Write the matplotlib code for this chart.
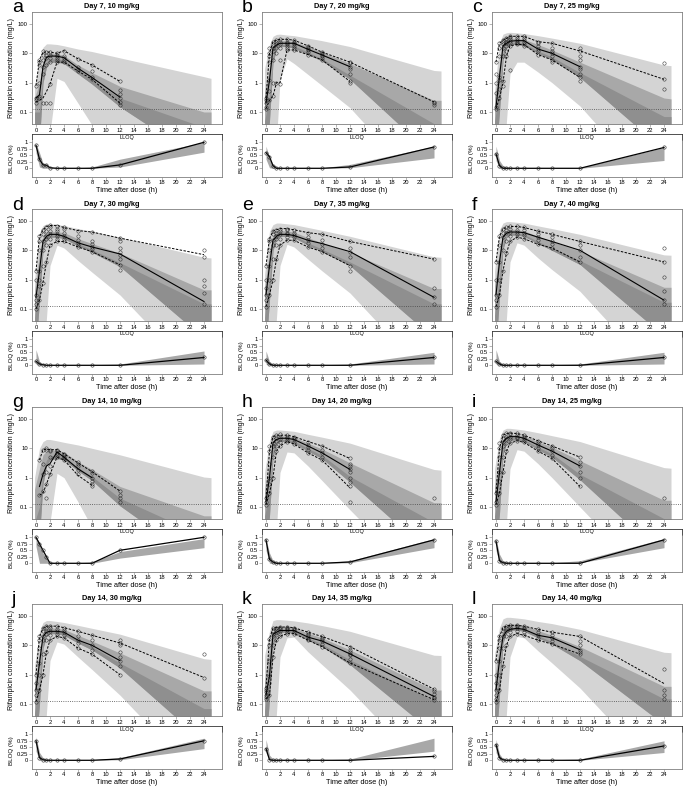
import matplotlib.pyplot as plt
import numpy as np

plt.rcParams['font.family'] = ['Liberation Sans', 'DejaVu Sans']

# panel labels and titles
letters = ['a', 'b', 'c', 'd', 'e', 'f', 'g', 'h', 'i', 'j', 'k', 'l']
titles = ['Day 7, 10 mg/kg', 'Day 7, 20 mg/kg', 'Day 7, 25 mg/kg',
          'Day 7, 30 mg/kg', 'Day 7, 35 mg/kg', 'Day 7, 40 mg/kg',
          'Day 14, 10 mg/kg', 'Day 14, 20 mg/kg', 'Day 14, 25 mg/kg',
          'Day 14, 30 mg/kg', 'Day 14, 35 mg/kg', 'Day 14, 40 mg/kg']

t_obs = [0, 0.5, 1, 1.5, 2, 3, 4, 6, 8, 12, 24]
t_band = [-0.2, 0.5, 1, 1.5, 2, 3, 4, 6, 8, 12, 24, 25]
lloq = 0.13
N = None

# observed percentiles (median, 95th, 5th)
obs_median = [
    [0.3, 0.38, 3.5, 7.3, 8.1, 8, 7.1, 3.1, 1.5, 0.32, N],
    [0.2, 1.2, 15, 19, 22, 22, 22, 13.7, 8.8, 3.5, N],
    [0.15, 1.6, 18, 22, 26, 27, 27, 14, 10, 3.5, N],
    [0.25, 2, 20, 30, 35, 35, 30, 18, 13, 7.5, 0.18],
    [0.3, 3, 22, 30, 35, 35, 32, 22, 17, 9, 0.25],
    [0.3, 4, 28, 38, 42, 42, 40, 28, 20, 10, 0.2],
    [N, 0.5, 1.3, 2.5, 3, 7.5, 5, 2, 1, N, N],
    [0.15, 1, 15, 20, 22, 22, 20, 12, 7, 1.9, N],
    [0.15, 1.5, 16, 22, 25, 25, 22, 13, 8, 2.5, N],
    [0.3, 2.5, 20, 28, 30, 30, 28, 15, 10, 3, N],
    [0.2, 0.9, 24, 28, 32, 32, 32, 19, 14, 5.1, 0.18],
    [0.3, 3, 20, 30, 35, 38, 35, 22, 18, 7.1, N],
]
obs_p95 = [
    [0.8, 6, 11, 11, 11, 10, 12.3, 6.5, 4, 1.1, N],
    [0.3, 10, 25, 28, 30, 30, 28, 18, 11, 5, 0.22],
    [5, 22, 28, 32, 38, 38, 38, 25, 22, 12, 1.3],
    [2, 30, 50, 65, 70, 71, 60, 47, 42, 26, 7.1],
    [3, 25, 45, 50, 55, 55, 50, 40, 35, 20, 5],
    [4, 30, 55, 60, 65, 65, 60, 45, 35, 20, 4],
    [N, 4, 9, 9.5, 9, 9, 6.5, 3.2, 1.6, 0.35, N],
    [0.2, 8, 25, 28, 28, 28, 25, 17, 12, 4.5, N],
    [0.3, 10, 28, 32, 33, 32, 28, 18, 12, 5, N],
    [1, 20, 38, 45, 45, 45, 40, 30, 22, 12, 0.8],
    [0.35, 17, 38, 40, 42, 42, 40, 28, 20, 9, 0.32],
    [3, 20, 40, 45, 48, 48, 45, 35, 28, 20, 0.5],
]
obs_p5 = [
    [0.22, 0.25, 0.3, 0.5, 0.9, 5, 5, 2.5, 1.3, 0.2, N],
    [0.13, 0.25, 0.35, 1, 1, 13, 13, 9, 6, 1.1, N],
    [0.13, 0.3, 1, 8, 18, 20, 20, 9, 6, 1.5, N],
    [0.1, 0.2, 0.8, 4, 15, 20, 20, 13, 9, 3.2, N],
    [0.12, 0.3, 1, 5, 15, 22, 22, 13, 9, 3, N],
    [0.12, 0.3, 2, 8, 20, 28, 25, 16, 12, 4, N],
    [N, 0.25, 0.3, 0.6, 1.3, 5, 4, 1.2, 0.55, N, N],
    [0.12, 0.3, 1, 8, 12, 17, 14, 7, 4, 0.45, N],
    [0.12, 0.3, 1.5, 8, 15, 18, 16, 8, 4.5, 0.5, N],
    [0.12, 0.3, 1, 6, 15, 20, 18, 8, 5, 1, N],
    [0.15, 0.2, 4, 15, 20, 25, 25, 15, 9, 2.5, 0.14],
    [0.12, 0.3, 2, 10, 20, 25, 22, 15, 11, 5, N],
]

# simulated prediction intervals (outer), median CI (mid) and its darker part
band_hi = [
    [0.8, 6, 16, 21, 21, 20, 18, 14, 11.5, 7, 1.6, 1.4],
    [3, 20, 38, 44, 45, 42, 40, 33, 27, 17, 2.6, 2.5],
    [0.5, 22, 45, 50, 52, 50, 47, 40, 33, 22, 4, 3.8],
    [1, 40, 70, 80, 80, 75, 70, 55, 45, 28, 5.8, 5.5],
    [1.5, 45, 75, 85, 85, 80, 75, 60, 48, 30, 6, 5.8],
    [2, 50, 85, 95, 95, 90, 85, 68, 55, 35, 7, 6.8],
    [1, 10, 17, 20, 20, 18, 16, 13, 10, 6, 1.05, 1.0],
    [1.5, 18, 38, 42, 42, 40, 38, 30, 24, 15, 1.9, 1.8],
    [2, 22, 42, 48, 48, 45, 42, 34, 27, 17, 2.2, 2.1],
    [2, 30, 60, 70, 70, 65, 60, 48, 38, 24, 3.5, 3.3],
    [4.5, 30, 70, 75, 75, 72, 68, 58, 47, 30, 4.6, 4.5],
    [5, 40, 80, 90, 90, 85, 80, 65, 55, 35, 5.8, 5.6],
]
band_lo = [
    [1e-3, 1e-3, 1e-3, 2e-3, 0.02, 1.4, 1.1, 0.2, 0.036, 1e-3, 1e-6, 1e-6],
    [1e-3, 1e-3, 1e-3, 0.01, 1.2, 6.5, 4.5, 1.9, 0.8, 0.14, 1e-4, 1e-4],
    [1e-3, 1e-3, 1e-3, 0.05, 2, 5, 5, 2.3, 1.0, 0.16, 1e-4, 1e-4],
    [1e-3, 1e-3, 1e-3, 0.05, 3, 15, 12, 4.5, 1.8, 0.3, 3e-4, 3e-4],
    [1e-3, 1e-3, 1e-3, 0.05, 3, 16, 13, 5, 2, 0.35, 3e-4, 3e-4],
    [1e-3, 1e-3, 1e-3, 0.05, 4, 18, 15, 5.5, 2.2, 0.4, 3e-4, 3e-4],
    [1e-3, 1e-3, 1e-3, 1e-3, 0.03, 1.4, 1.0, 0.15, 0.02, 5e-4, 1e-6, 1e-6],
    [1e-3, 1e-3, 1e-3, 0.02, 1.5, 7.5, 7, 2.5, 0.8, 0.08, 1e-4, 1e-4],
    [1e-3, 1e-3, 1e-3, 0.03, 2, 9, 8, 3, 1, 0.1, 1e-4, 1e-4],
    [1e-3, 1e-3, 1e-3, 0.05, 3, 13, 11, 4, 1.5, 0.2, 2e-4, 2e-4],
    [1e-3, 1e-3, 1e-3, 0.05, 4, 18, 19, 6, 2.2, 0.3, 3e-4, 3e-4],
    [1e-3, 1e-3, 1e-3, 0.05, 4, 20, 18, 6.5, 2.5, 0.35, 3e-4, 3e-4],
]
mid_hi = [
    [0.3, 1, 5, 9, 10, 9.5, 8.5, 4, 2.2, 0.75, 0.1, 0.1],
    [0.5, 3, 18, 26, 28, 27, 25, 17, 11, 4.5, 0.25, 0.25],
    [0.3, 4, 20, 30, 33, 32, 30, 20, 13, 5, 0.3, 0.28],
    [0.4, 8, 30, 42, 45, 43, 40, 25, 17, 8, 0.45, 0.45],
    [0.5, 9, 32, 45, 48, 45, 42, 27, 18, 8.5, 0.5, 0.5],
    [0.6, 10, 36, 50, 54, 50, 46, 30, 20, 9.5, 0.55, 0.55],
    [0.4, 2, 6, 8, 9, 8.5, 7.5, 3.5, 1.9, 0.5, 0.05, 0.05],
    [0.4, 3, 18, 25, 27, 26, 24, 15, 9.5, 3.2, 0.14, 0.14],
    [0.5, 4, 20, 28, 30, 29, 27, 17, 11, 3.8, 0.17, 0.17],
    [0.5, 6, 26, 38, 40, 38, 35, 22, 14, 5.5, 0.28, 0.28],
    [0.6, 8, 30, 40, 44, 42, 40, 26, 18, 7, 0.3, 0.3],
    [0.7, 10, 36, 50, 54, 52, 48, 32, 22, 9, 0.4, 0.4],
]
mid_lo = [
    [1e-3, 0.01, 1, 3.5, 5, 5, 4.5, 2, 0.9, 0.15, 2e-3, 2e-3],
    [1e-3, 0.05, 5, 14, 17, 17, 15, 9, 5.5, 1.3, 3e-3, 3e-3],
    [1e-3, 0.1, 6, 16, 20, 20, 18, 10, 6, 1.5, 5e-3, 5e-3],
    [1e-3, 0.2, 10, 22, 28, 28, 25, 14, 8.5, 2.8, 0.01, 0.01],
    [1e-3, 0.2, 10, 24, 30, 30, 27, 15, 9, 3, 0.01, 0.01],
    [1e-3, 0.25, 11, 27, 33, 33, 30, 17, 10, 3.3, 0.012, 0.012],
    [1e-3, 0.01, 0.6, 2.5, 4, 4.5, 4, 1.7, 0.8, 0.11, 1e-3, 1e-3],
    [1e-3, 0.05, 5, 13, 17, 17, 15, 8, 4.5, 0.7, 2e-3, 2e-3],
    [1e-3, 0.06, 6, 15, 19, 19, 17, 9, 5, 0.85, 2e-3, 2e-3],
    [1e-3, 0.1, 8, 20, 25, 25, 22, 12, 7, 1.7, 5e-3, 5e-3],
    [1e-3, 0.15, 10, 22, 28, 28, 26, 15, 9, 2.2, 0.01, 0.01],
    [1e-3, 0.2, 12, 27, 33, 33, 30, 18, 11, 3, 0.02, 0.02],
]
dark_hi = [
    [0.1, 0.1, 2, 5, 6.5, 6.5, 6, 2.6, 1.2, 0.3, 0.03, 0.03],
    [0.05, 0.3, 8, 18, 20, 20, 18, 11, 6.5, 1.8, 0.04, 0.04],
    [0.05, 0.5, 9, 20, 24, 24, 22, 12, 7.5, 2.2, 0.07, 0.07],
    [0.05, 1, 14, 27, 33, 33, 30, 17, 10.5, 3.8, 0.15, 0.15],
    [0.05, 1, 14, 30, 35, 35, 32, 18, 11, 4, 0.15, 0.15],
    [0.06, 1.2, 16, 33, 39, 39, 35, 20, 12, 4.5, 0.17, 0.17],
    [0.03, 0.1, 1.5, 4, 5.5, 6, 5.2, 2.2, 1.1, 0.2, 0.01, 0.01],
    [0.05, 0.3, 8, 17, 20, 20, 18, 10, 5.8, 1.1, 0.03, 0.03],
    [0.05, 0.4, 9, 19, 23, 23, 20, 11, 6.5, 1.3, 0.04, 0.04],
    [0.05, 0.6, 12, 25, 30, 30, 27, 15, 9, 2.5, 0.07, 0.07],
    [0.06, 0.8, 14, 27, 33, 33, 31, 18, 11, 3.2, 0.13, 0.13],
    [0.07, 1, 17, 33, 39, 39, 36, 22, 13, 4.2, 0.15, 0.15],
]

# observed concentrations per nominal time (mg/L)
obs_points = [
    [[0.2, 0.25, 0.3, 0.8], [0.3, 0.35, 1, 4, 5, 6], [0.2, 2, 3.5, 6, 9, 12], [0.2, 4, 7, 9, 11],
     [0.2, 0.9, 5, 7, 9, 11], [5, 6, 7, 8, 9, 10], [5, 6, 7, 8, 12], [2.5, 3, 3.5, 6.5],
     [1.3, 1.5, 2.5, 4], [0.18, 0.22, 0.3, 0.4, 0.55, 1.1], []],
    [[0.13, 0.15, 0.2, 0.25, 0.3], [0.25, 0.5, 1.2, 5, 8, 10, 15], [0.35, 1, 6, 12, 15, 20, 25],
     [1, 10, 15, 20, 25, 28], [0.9, 6, 15, 20, 25, 30], [13, 15, 18, 20, 22, 25, 30],
     [13, 15, 18, 20, 22, 25, 28], [9, 11, 13, 14, 16, 18], [6, 7, 8, 9, 10, 11],
     [1, 1.1, 2, 3, 3.5, 4.5, 5], [0.18, 0.2, 0.22]],
    [[0.13, 0.15, 0.45, 1, 2, 5], [0.3, 0.6, 1.2, 1.6, 8, 15, 22], [0.8, 1.1, 8, 15, 20, 25, 28],
     [8, 12, 18, 22, 25, 30, 32], [2.8, 18, 22, 26, 30, 35, 38], [20, 22, 25, 28, 32, 38],
     [18, 20, 25, 28, 32, 38], [9, 12, 14, 18, 22, 25], [5, 6, 8, 10, 12, 15, 22],
     [1.1, 1.5, 2, 3, 3.5, 6, 8, 12, 15], [0.6, 1.3, 4.5]],
    [[0.1, 0.15, 0.2, 0.3, 1, 2], [0.2, 0.6, 1, 2, 10, 20, 30], [0.8, 3, 10, 20, 35, 50],
     [4, 15, 25, 30, 45, 60], [15, 25, 35, 45, 60, 75], [20, 25, 30, 35, 45, 55, 70],
     [20, 25, 30, 40, 55, 60], [13, 15, 18, 22, 30, 47], [9, 11, 13, 16, 20, 42],
     [2.2, 3.2, 5, 7, 9, 12, 20, 26], [0.15, 0.35, 0.6, 1, 6, 10]],
    [[0.12, 0.2, 0.3, 0.5, 1, 3], [0.3, 1, 3, 10, 20, 25], [1, 5, 15, 22, 35, 45],
     [5, 15, 25, 30, 40, 50], [15, 25, 35, 45, 55], [22, 28, 35, 40, 50, 55], [22, 28, 32, 40, 50],
     [13, 18, 22, 28, 40], [9, 12, 17, 22, 35], [2, 3, 6, 9, 12, 20], [0.15, 0.25, 0.5, 5]],
    [[0.12, 0.2, 0.3, 1, 4], [0.3, 1, 4, 15, 30], [2, 10, 28, 40, 55], [8, 20, 38, 50, 60],
     [20, 30, 42, 55, 65], [28, 35, 42, 50, 65], [25, 32, 40, 50, 60], [16, 22, 28, 35, 45],
     [12, 16, 20, 28, 35], [4, 6, 10, 15, 20], [0.15, 0.2, 0.4, 1.2, 4, 12]],
    [[], [0.25, 4], [0.35, 1.3, 3, 9], [0.2, 0.6, 1.5, 9, 10], [1.3, 2.5, 5, 8, 9], [5, 6, 7, 8, 9],
     [4, 4.5, 5, 6, 6.5], [1.3, 1.8, 2.5, 3, 3.5], [0.5, 0.6, 0.8, 1, 1.4, 1.7],
     [0.15, 0.2, 0.25, 0.35], []],
    [[0.12, 0.15, 0.2], [0.3, 0.6, 1, 3, 8, 12], [1, 5, 12, 15, 20, 25], [8, 12, 18, 22, 28],
     [12, 16, 20, 25, 30], [17, 19, 22, 25, 28], [14, 17, 20, 23, 25], [7, 9, 11, 13, 17],
     [4, 5, 7, 9, 12], [0.15, 0.5, 0.7, 1, 1.5, 2, 2.5, 3, 4.5], [0.2]],
    [[0.12, 0.15, 0.3], [0.3, 0.8, 1.5, 5, 10, 15], [1.5, 5, 12, 16, 22, 28], [8, 15, 20, 25, 32],
     [15, 20, 25, 30, 33], [18, 22, 25, 28, 32], [16, 19, 22, 25, 28], [8, 10, 13, 15, 18],
     [4.5, 6, 8, 10, 12], [0.5, 1, 1.5, 2.5, 3.5, 5], [0.2]],
    [[0.12, 0.2, 0.3, 0.5, 1], [0.3, 1, 2.5, 8, 15, 20], [1, 5, 15, 20, 30, 38],
     [6, 15, 25, 30, 40, 45], [15, 22, 30, 38, 45], [20, 25, 30, 35, 45], [18, 22, 28, 33, 40],
     [8, 12, 15, 20, 30], [5, 7, 10, 15, 22], [1, 2, 3, 4, 6, 10, 12, 15], [0.2, 0.8, 5]],
    [[0.15, 0.18, 0.2, 0.25, 0.3, 0.35], [0.2, 0.5, 0.9, 3, 10, 17], [4, 10, 20, 25, 30, 38],
     [15, 22, 28, 32, 38, 40], [20, 25, 30, 35, 40, 42], [25, 28, 32, 36, 40, 42],
     [25, 28, 32, 36, 40], [15, 17, 19, 22, 25, 28], [9, 11, 14, 16, 18, 20],
     [2.5, 3.5, 4.5, 5, 6, 7, 9], [0.14, 0.16, 0.18, 0.22, 0.27, 0.32]],
    [[0.12, 0.15, 0.2, 0.3, 0.5, 1, 3], [0.3, 1, 3, 8, 15, 20], [2, 8, 20, 30, 40],
     [10, 20, 30, 38, 45], [20, 28, 35, 42, 48], [25, 30, 38, 45, 48], [22, 28, 35, 40, 45],
     [15, 18, 22, 28, 35], [11, 14, 18, 22, 28], [5, 6, 7, 10, 14, 20], [0.15, 0.2, 0.3, 1.5]],
]

# fraction below LLOQ: observed and simulated interval
blq_obs = [
    [0.88, 0.35, 0.13, 0.12, 0.02, 0, 0, 0, 0, 0.13, 1.0],
    [0.6, 0.45, 0.1, 0, 0, 0, 0, 0, 0, 0.05, 0.82],
    [0.55, 0.1, 0, 0, 0, 0, 0, 0, 0, 0, 0.8],
    [0.15, 0.05, 0.02, 0, 0, 0, 0, 0, 0, 0, 0.3],
    [0.2, 0.05, 0, 0, 0, 0, 0, 0, 0, 0, 0.3],
    [0.15, 0.05, 0, 0, 0, 0, 0, 0, 0, 0, 0.3],
    [1.0, 0.75, 0.5, 0.25, 0, 0, 0, 0, 0, 0.5, 1.0],
    [0.9, 0.15, 0.05, 0, 0, 0, 0, 0, 0, 0.05, 0.9],
    [0.85, 0.1, 0.02, 0, 0, 0, 0, 0, 0, 0, 0.9],
    [0.75, 0.1, 0.02, 0, 0, 0, 0, 0, 0, 0.05, 0.75],
    [0.45, 0.02, 0, 0, 0, 0, 0, 0, 0, 0, 0.15],
    [0.6, 0.1, 0.02, 0, 0, 0, 0, 0, 0, 0, 0.55],
]
blq_lo = [
    [0.6, 0.05, 0, 0, 0, 0, 0, 0, 0, 0.05, 0.62],
    [0.35, 0.02, 0, 0, 0, 0, 0, 0, 0, 0.02, 0.4],
    [0.3, 0, 0, 0, 0, 0, 0, 0, 0, 0, 0.3],
    [0.05, 0, 0, 0, 0, 0, 0, 0, 0, 0, 0.05],
    [0.05, 0, 0, 0, 0, 0, 0, 0, 0, 0, 0.05],
    [0.05, 0, 0, 0, 0, 0, 0, 0, 0, 0, 0.05],
    [0.65, 0, 0, 0, 0, 0, 0, 0, 0, 0.2, 0.6],
    [0.5, 0, 0, 0, 0, 0, 0, 0, 0, 0.02, 0.6],
    [0.5, 0, 0, 0, 0, 0, 0, 0, 0, 0.02, 0.6],
    [0.35, 0, 0, 0, 0, 0, 0, 0, 0, 0.02, 0.45],
    [0.3, 0, 0, 0, 0, 0, 0, 0, 0, 0, 0.35],
    [0.3, 0, 0, 0, 0, 0, 0, 0, 0, 0, 0.3],
]
blq_hi = [
    [0.95, 0.6, 0.2, 0.1, 0.05, 0.02, 0.02, 0.02, 0.05, 0.35, 1.0],
    [0.85, 0.4, 0.15, 0.05, 0.02, 0.02, 0.02, 0.02, 0.02, 0.15, 0.85],
    [0.85, 0.3, 0.1, 0.05, 0.02, 0.02, 0.02, 0.02, 0.02, 0.03, 0.8],
    [0.6, 0.15, 0.05, 0.02, 0.02, 0.02, 0.02, 0.02, 0.02, 0.05, 0.55],
    [0.55, 0.15, 0.05, 0.02, 0.02, 0.02, 0.02, 0.02, 0.02, 0.05, 0.5],
    [0.6, 0.15, 0.05, 0.02, 0.02, 0.02, 0.02, 0.02, 0.02, 0.05, 0.5],
    [1.0, 0.8, 0.4, 0.2, 0.05, 0.02, 0.02, 0.02, 0.05, 0.45, 0.95],
    [0.95, 0.4, 0.1, 0.05, 0.02, 0.02, 0.02, 0.02, 0.02, 0.1, 0.95],
    [0.95, 0.35, 0.1, 0.05, 0.02, 0.02, 0.02, 0.02, 0.02, 0.1, 0.95],
    [0.9, 0.3, 0.1, 0.05, 0.02, 0.02, 0.02, 0.02, 0.02, 0.1, 0.85],
    [0.8, 0.2, 0.05, 0.02, 0.02, 0.02, 0.02, 0.02, 0.02, 0.05, 0.85],
    [0.8, 0.25, 0.05, 0.02, 0.02, 0.02, 0.02, 0.02, 0.02, 0.05, 0.75],
]

W, H = 683, 786
fig = plt.figure(figsize=(W / 100, H / 100), dpi=100)


def px_axes(x0, y0, x1, y1):
    return fig.add_axes([x0 / W, 1 - y1 / H, (x1 - x0) / W, (y1 - y0) / H])


col_x = [0, 230, 460]
row_y = [0, 197, 395, 592]
frame = '#7f7f7f'
xticks = np.arange(0, 25, 2)


def style(ax):
    for s in ax.spines.values():
        s.set_color(frame)
        s.set_linewidth(0.6)
    ax.tick_params(length=2, width=0.4, color=frame, labelsize=4.2, pad=1)


for k in range(12):
    cx = col_x[k % 3]
    ry = row_y[k // 3]

    # main VPC panel
    ax = px_axes(cx + 32, ry + 12, cx + 222, ry + 124)
    ax.set_yscale('log')
    ax.fill_between(t_band, band_lo[k], band_hi[k], color='#d4d4d4', lw=0)
    ax.fill_between(t_band, mid_lo[k], mid_hi[k], color='#a8a8a8', lw=0)
    ax.fill_between(t_band, mid_lo[k], dark_hi[k], color='#8f8f8f', lw=0)
    ax.axhline(lloq, ls=':', color='#444444', lw=0.6)
    for t, vals in zip(t_obs, obs_points[k]):
        ax.plot([t] * len(vals), vals, 'o', ms=2.4, mfc='none', mec='#222222', mew=0.35)
    med = np.array(obs_median[k], dtype=float)
    p95 = np.array(obs_p95[k], dtype=float)
    p5 = np.array(obs_p5[k], dtype=float)
    ax.plot(t_obs, med, color='black', lw=0.8)
    ax.plot(t_obs, p95, color='black', lw=0.7, dashes=(2.5, 1.5))
    ax.plot(t_obs, p5, color='black', lw=0.7, dashes=(2.5, 1.5))
    ax.set_xlim(-0.57, 26.57)
    ax.set_ylim(0.039, 256)
    ax.set_xticks(xticks)
    ax.set_yticks([0.1, 1, 10, 100])
    ax.set_yticklabels(['0.1', '1', '10', '100'])
    ax.minorticks_off()
    style(ax)
    ax.set_ylabel('Rifampicin concentration (mg/L)', fontsize=5, labelpad=2)

    fig.text((cx + 112) / W, 1 - (ry + 7) / H, titles[k], fontsize=5.3,
             fontweight='bold', ha='center', va='center')
    fig.text((cx + 12) / W, 1 - (ry + 8) / H, letters[k], fontsize=14,
             ha='left', va='center')

    # LLOQ strip
    st = px_axes(cx + 32, ry + 134, cx + 222, ry + 140)
    st.set_xticks([])
    st.set_yticks([])
    for s in st.spines.values():
        s.set_color('#333333')
        s.set_linewidth(0.6)
    st.text(0.5, 0.5, 'LLOQ', fontsize=4, ha='center', va='center', transform=st.transAxes)

    # BLQ fraction panel
    bx = px_axes(cx + 32, ry + 140, cx + 222, ry + 177)
    bx.fill_between(t_obs, blq_lo[k], blq_hi[k], color='#a8a8a8', lw=0)
    bx.plot(t_obs, blq_obs[k], color='black', lw=0.9, marker='o', ms=2.4,
            mfc='none', mec='#222222', mew=0.4)
    bx.set_xlim(-0.57, 26.57)
    bx.set_ylim(-0.335, 1.088)
    bx.set_xticks(xticks)
    bx.set_yticks([0, 0.25, 0.5, 0.75, 1])
    bx.set_yticklabels(['0', '0.25', '0.5', '0.75', '1'])
    style(bx)
    bx.tick_params(axis='x', pad=0.5)
    bx.spines['top'].set_visible(False)
    bx.set_ylabel('BLOQ (%)', fontsize=4.5, labelpad=2)
    fig.text((cx + 127) / W, 1 - (ry + 190.5) / H, 'Time after dose (h)',
             fontsize=5.3, ha='center', va='center')

fig.savefig('out.png', dpi=100)
